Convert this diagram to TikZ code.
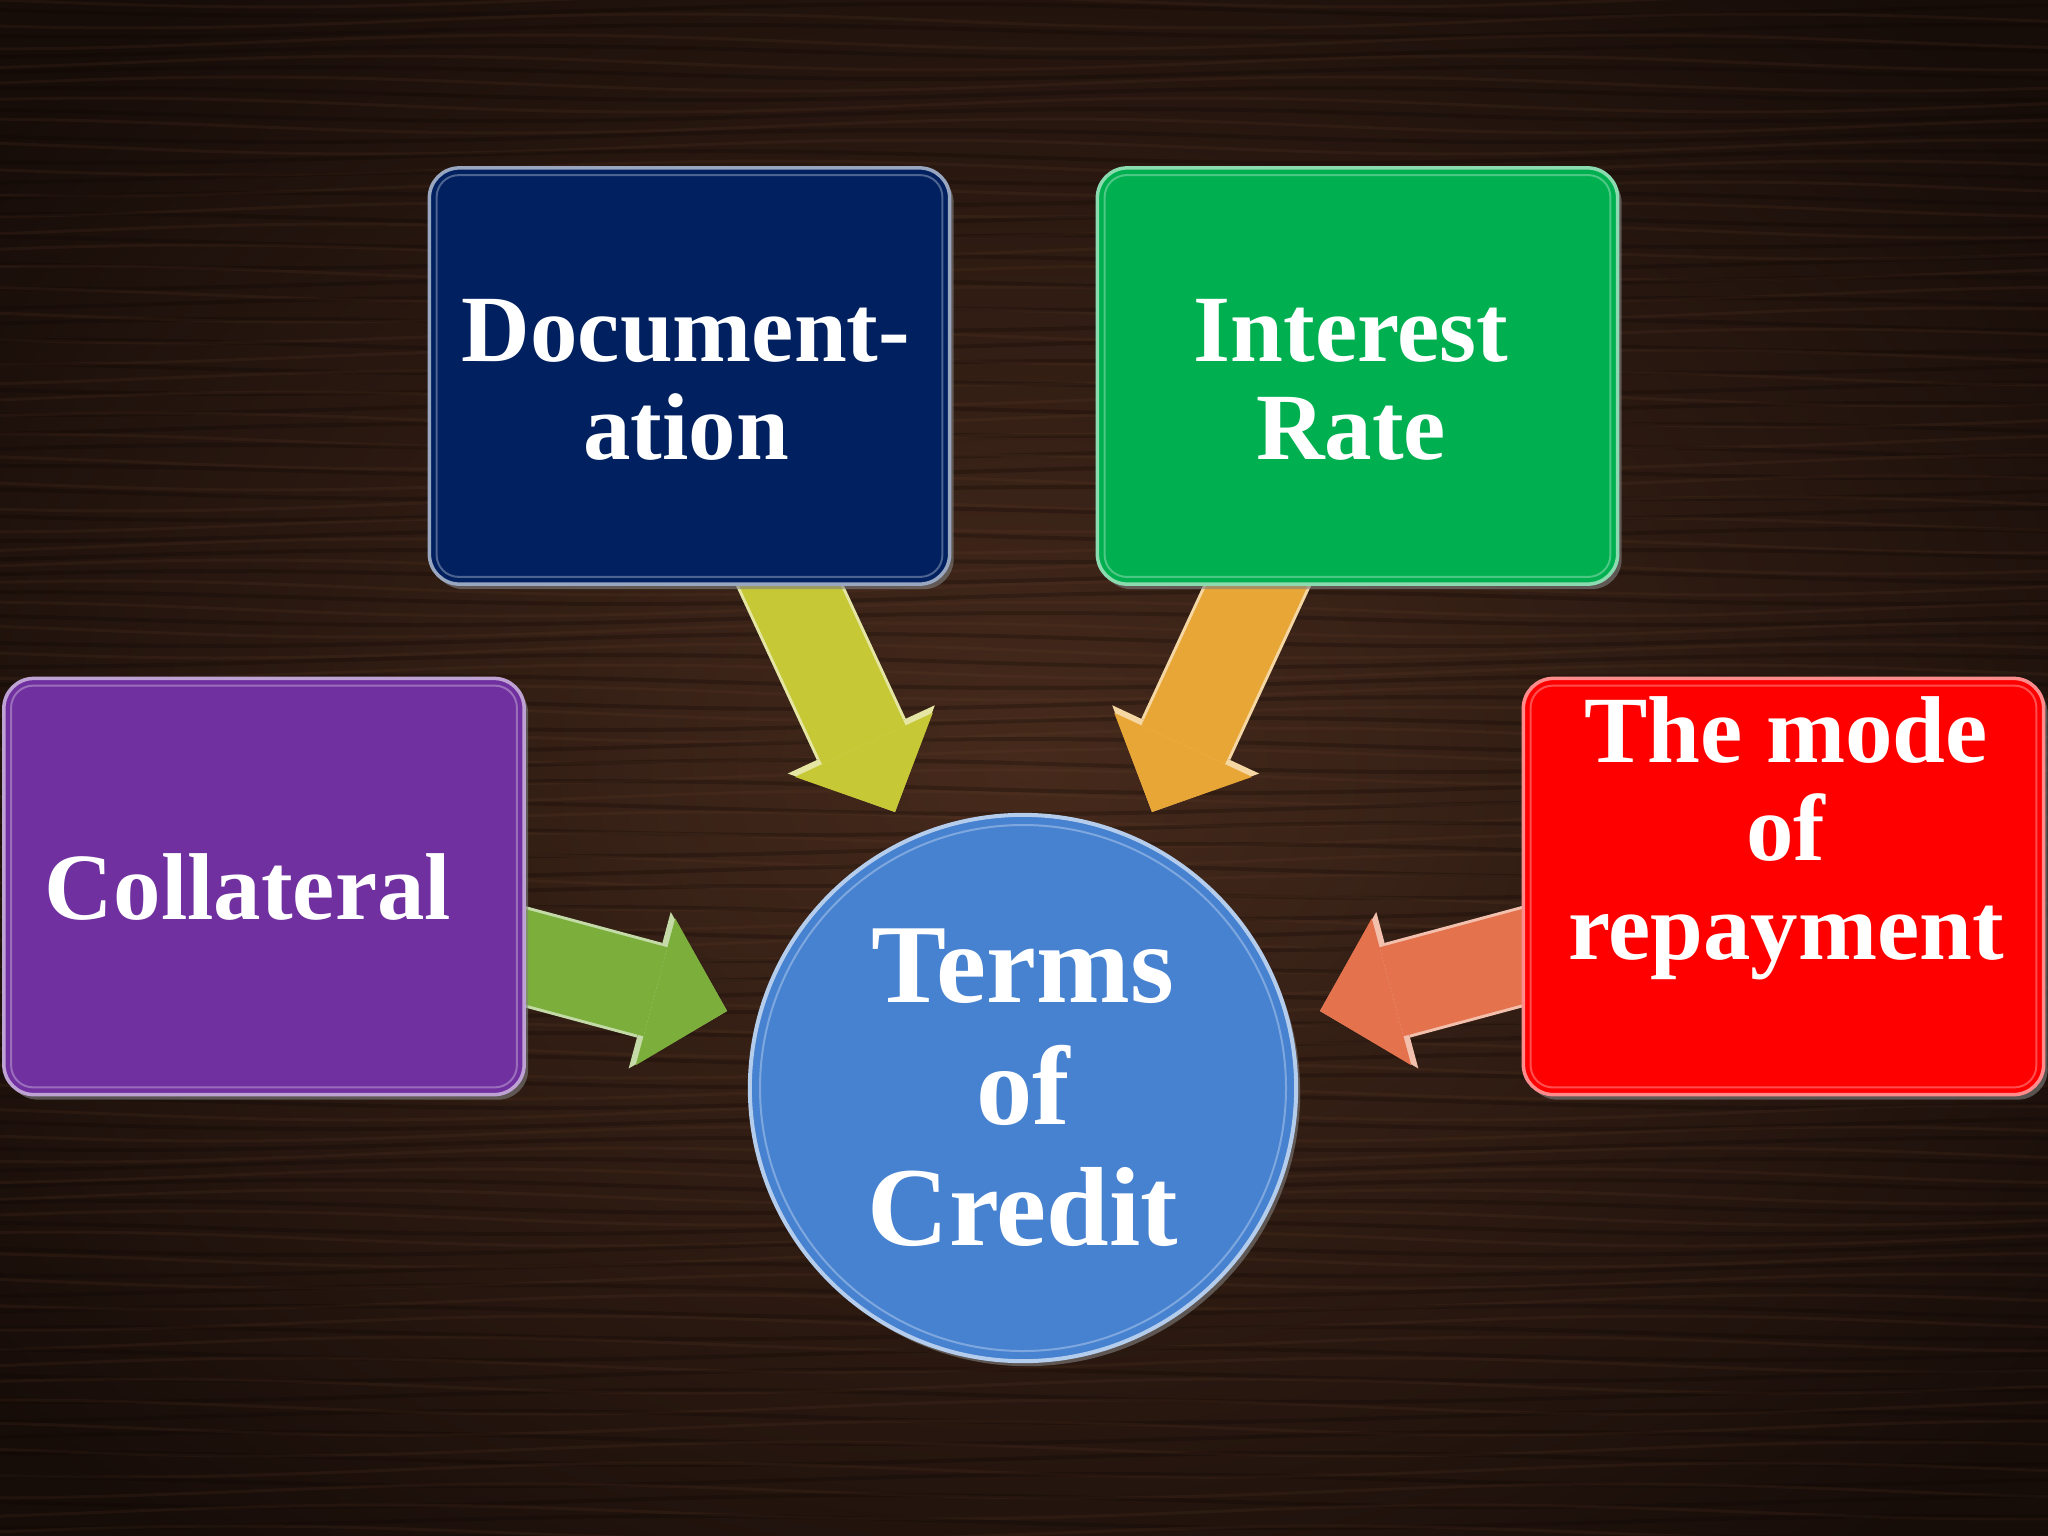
\documentclass[tikz,border=0pt]{standalone}
\usepackage{fontspec}
\setmainfont{Liberation Serif}
\usetikzlibrary{arrows.meta,shadows}

\definecolor{woodmid}{RGB}{70,42,28}
\definecolor{wooddark}{RGB}{22,12,8}
\definecolor{grainlight}{RGB}{110,70,46}
\definecolor{graindark}{RGB}{12,6,4}
\definecolor{docblue}{RGB}{0,32,96}
\definecolor{intgreen}{RGB}{0,176,80}
\definecolor{colpurple}{RGB}{112,48,160}
\definecolor{repred}{RGB}{255,0,0}
\definecolor{termsblue}{RGB}{70,130,208}
\definecolor{arrowyellow}{RGB}{198,200,54}
\definecolor{arroworange}{RGB}{232,166,54}
\definecolor{arrowgreen}{RGB}{124,174,60}
\definecolor{arrowred}{RGB}{228,114,76}

\tikzset{
  termbox/.style={rounded corners=0.3cm, minimum width=5.2cm, minimum height=4.16cm, line width=0.035cm,
    drop shadow={opacity=0.6, shadow xshift=0.04cm, shadow yshift=-0.05cm}},
  termtext/.style={text=white, align=center, font=\bfseries\fontsize{27}{28}\selectfont},
  bevel/.style={white, opacity=0.3, line width=0.02cm, rounded corners=0.22cm},
  bigarrow/.style={line width=0.92cm, -{Triangle[length=0.74cm, width=1.52cm, line width=0pt]}},
  arrowrim/.style={line width=0.98cm, -{Triangle[length=0.8cm, width=1.62cm, line width=0pt]}},
  grain/.style={grainlight, opacity=0.14, line width=0.03cm},
  darkgrain/.style={graindark, opacity=0.25, line width=0.04cm},
}

\begin{document}
\begin{tikzpicture}[x=0.01cm, y=-0.01cm]
	\useasboundingbox (0,0) rectangle (2048,1536);
	% wooden table
	\shade[inner color=woodmid, outer color=wooddark] (-300,-250) rectangle (2348,1786);
	\foreach \i in {0,...,74} {
		\draw[grain] plot[domain=0:2048, samples=30, smooth] (\x, {\i*21 + 7*sin(\x*0.33 + \i*47)});
		\draw[darkgrain] plot[domain=0:2048, samples=30, smooth] (\x, {\i*21 + 10 + 6*sin(\x*0.29 + \i*61)});
	}

	% arrow ends
	\coordinate (docStart) at (778,560);
	\coordinate (docTip) at (895,812);
	\coordinate (intStart) at (1269,560);
	\coordinate (intTip) at (1152,812);
	\coordinate (colStart) at (500,950);
	\coordinate (colTip) at (727,1011);
	\coordinate (repStart) at (1547,950);
	\coordinate (repTip) at (1320,1011);

	\draw[arrowrim, arrowyellow!45!white] (docStart) -- (docTip);
	\draw[bigarrow, arrowyellow] (docStart) -- (docTip);
	\draw[arrowrim, arroworange!45!white] (intStart) -- (intTip);
	\draw[bigarrow, arroworange] (intStart) -- (intTip);
	\draw[arrowrim, arrowgreen!45!white] (colStart) -- (colTip);
	\draw[bigarrow, arrowgreen] (colStart) -- (colTip);
	\draw[arrowrim, arrowred!45!white] (repStart) -- (repTip);
	\draw[bigarrow, arrowred] (repStart) -- (repTip);

	% the four boxes
	\node[termbox, fill=docblue, draw=docblue!40!white] (doc) at (689.5,376) {};
	\node[termbox, fill=intgreen, draw=intgreen!45!white] (int) at (1357.5,376) {};
	\node[termbox, fill=colpurple, draw=colpurple!45!white] (col) at (264,886.5) {};
	\node[termbox, fill=repred, draw=repred!45!white] (rep) at (1783.5,886.5) {};
	\foreach \b in {doc,int,col,rep}
		\draw[bevel] ([shift={(9,9)}]\b.north west) rectangle ([shift={(-9,-9)}]\b.south east);

	\node[termtext] (docText) at (686,380) {Document-\\ation};
	\node[termtext] (intText) at (1351,380) {Interest\\Rate};
	\node[termtext] (colText) at (248,887) {Collateral};
	\node[termtext] (repText) at (1786,838) {The mode\\of\\repayment};

	% centre
	\node[circle, minimum size=5.46cm, fill=termsblue, draw=termsblue!40!white, line width=0.04cm,
		drop shadow={opacity=0.6, shadow xshift=0.04cm, shadow yshift=-0.05cm},
		text=white, align=center, font=\bfseries\fontsize{32}{34.5}\selectfont] (terms) at (1023,1088) {Terms\\of\\Credit};
	\draw[bevel] (terms.center) circle (263);
\end{tikzpicture}
\end{document}
